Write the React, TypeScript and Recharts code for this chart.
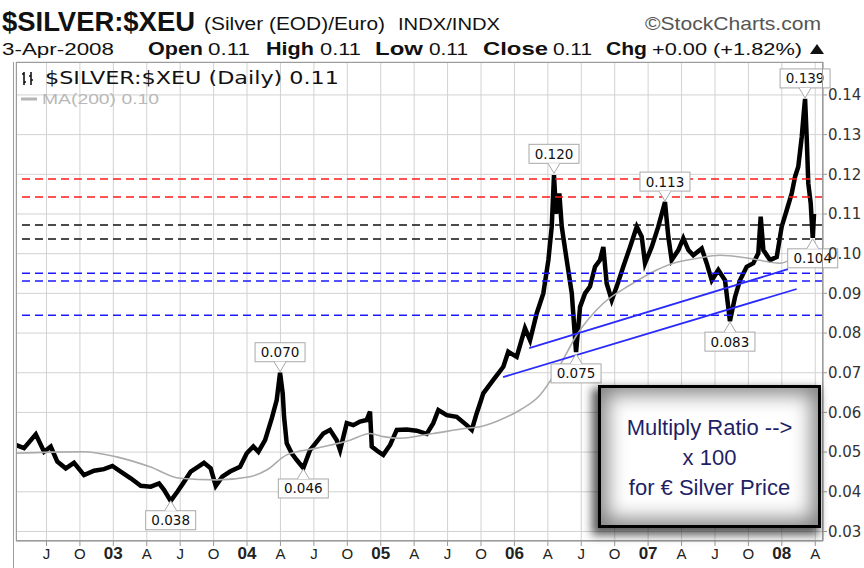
import React from 'react';
import { LineChart, Line, XAxis, YAxis, CartesianGrid, ReferenceLine, ReferenceDot } from 'recharts';

// decimal years
const priceDates = [
  2002.270, 2002.332, 2002.420, 2002.482, 2002.532, 2002.581, 2002.644, 2002.706, 2002.781, 2002.856,
  2002.930, 2002.993, 2003.055, 2003.130, 2003.205, 2003.280, 2003.342, 2003.379, 2003.429, 2003.479,
  2003.529, 2003.579, 2003.616, 2003.678, 2003.728, 2003.766, 2003.815, 2003.873, 2003.948, 2003.998,
  2004.047, 2004.085, 2004.135, 2004.185, 2004.222, 2004.247, 2004.267, 2004.277, 2004.297, 2004.334,
  2004.372, 2004.421, 2004.471, 2004.521, 2004.571, 2004.621, 2004.671, 2004.696, 2004.746, 2004.795,
  2004.845, 2004.895, 2004.920, 2004.933, 2004.982, 2005.019, 2005.070, 2005.120, 2005.194, 2005.269,
  2005.344, 2005.393, 2005.431, 2005.494, 2005.568, 2005.643, 2005.681, 2005.718, 2005.743, 2005.767,
  2005.842, 2005.917, 2005.954, 2006.017, 2006.079, 2006.117, 2006.167, 2006.216, 2006.254, 2006.279,
  2006.296, 2006.311, 2006.336, 2006.354, 2006.391, 2006.429, 2006.461, 2006.491, 2006.528, 2006.565,
  2006.603, 2006.640, 2006.665, 2006.690, 2006.728, 2006.765, 2006.814, 2006.865, 2006.915, 2006.952,
  2006.977, 2007.027, 2007.076, 2007.126, 2007.151, 2007.176, 2007.226, 2007.263, 2007.301, 2007.338,
  2007.401, 2007.438, 2007.476, 2007.525, 2007.575, 2007.612, 2007.650, 2007.687, 2007.737, 2007.787,
  2007.824, 2007.842, 2007.862, 2007.912, 2007.962, 2007.999, 2008.037, 2008.074, 2008.099, 2008.123,
  2008.149, 2008.166, 2008.174, 2008.186, 2008.198, 2008.216, 2008.231, 2008.241,
];
const priceValues = [
  0.0518, 0.0510, 0.0545, 0.0501, 0.0514, 0.0476, 0.0459, 0.0473, 0.0442, 0.0453,
  0.0457, 0.0465, 0.0451, 0.0434, 0.0415, 0.0413, 0.0421, 0.0405, 0.0377, 0.0400,
  0.0425, 0.0451, 0.0459, 0.0473, 0.0459, 0.0415, 0.0438, 0.0451, 0.0463, 0.0497,
  0.0514, 0.0501, 0.0530, 0.0585, 0.0631, 0.0700, 0.0648, 0.0589, 0.0522, 0.0497,
  0.0480, 0.0460, 0.0505, 0.0526, 0.0547, 0.0556, 0.0530, 0.0505, 0.0573, 0.0568,
  0.0577, 0.0581, 0.0602, 0.0514, 0.0501, 0.0493, 0.0518, 0.0556, 0.0557, 0.0554,
  0.0546, 0.0573, 0.0606, 0.0593, 0.0589, 0.0568, 0.0556, 0.0598, 0.0623, 0.0648,
  0.0682, 0.0715, 0.0753, 0.0740, 0.0812, 0.0782, 0.0850, 0.0900, 0.0984, 0.1068,
  0.1198, 0.1101, 0.1152, 0.1068, 0.0984, 0.0900, 0.0752, 0.0866, 0.0900, 0.0917,
  0.0967, 0.0984, 0.1017, 0.0925, 0.0883, 0.0917, 0.0967, 0.1017, 0.1068, 0.1043,
  0.0976, 0.1017, 0.1068, 0.1130, 0.1043, 0.0984, 0.1009, 0.1039, 0.1009, 0.0996,
  0.1013, 0.0976, 0.0933, 0.0959, 0.0933, 0.0830, 0.0891, 0.0933, 0.0967, 0.0976,
  0.1001, 0.1093, 0.1009, 0.0984, 0.0992, 0.1068, 0.1110, 0.1152, 0.1194, 0.1219,
  0.1294, 0.1362, 0.1390, 0.1294, 0.1177, 0.1127, 0.1040, 0.1100,
];

const maDates = [
  2002.270, 2002.527, 2002.776, 2003.025, 2003.274, 2003.499, 2003.773, 2004.022, 2004.147, 2004.297,
  2004.521, 2004.770, 2004.920, 2005.019, 2005.144, 2005.393, 2005.643, 2005.743, 2005.892, 2006.042,
  2006.192, 2006.341, 2006.466, 2006.665, 2006.865, 2007.064, 2007.188, 2007.363, 2007.538, 2007.762,
  2007.986, 2008.111, 2008.236,
];
const maValues = [
  0.0497, 0.0500, 0.0501, 0.0488, 0.0463, 0.0434, 0.0430, 0.0438, 0.0455, 0.0493,
  0.0510, 0.0530, 0.0547, 0.0539, 0.0535, 0.0547, 0.0560, 0.0564, 0.0581, 0.0606,
  0.0644, 0.0719, 0.0795, 0.0875, 0.0921, 0.0959, 0.0976, 0.0988, 0.0996, 0.0988,
  0.0976, 0.0992, 0.1005,
];

const xTicks = [
  2002.5, 2002.75, 2003, 2003.25, 2003.5, 2003.75, 2004, 2004.25, 2004.5, 2004.75, 2005, 2005.25,
  2005.5, 2005.75, 2006, 2006.25, 2006.5, 2006.75, 2007, 2007.25, 2007.5, 2007.75, 2008, 2008.25,
];
const xTickLabels = ['J', 'O', '03', 'A', 'J', 'O', '04', 'A', 'J', 'O', '05', 'A', 'J', 'O', '06', 'A', 'J', 'O', '07', 'A', 'J', 'O', '08', 'A'];
const yTicks = [0.03, 0.04, 0.05, 0.06, 0.07, 0.08, 0.09, 0.1, 0.11, 0.12, 0.13, 0.14];

const redLevels = [0.1188, 0.1143];
const blackLevels = [0.1072, 0.1037];
const blueLevels = [0.0951, 0.0931, 0.0845];

const trendStartDates = [2006.111, 2005.915];
const trendStartValues = [0.0762, 0.0689];
const trendEndDates = [2008.046, 2008.111];
const trendEndValues = [0.0961, 0.0911];

const calloutDates = [2003.429, 2004.247, 2004.421, 2006.296, 2006.461, 2007.126, 2007.612, 2008.174, 2008.231];
const calloutValues = [0.038, 0.070, 0.046, 0.120, 0.075, 0.113, 0.083, 0.139, 0.104];
const calloutBelow = [true, false, true, false, true, false, true, false, true];

const priceData = priceDates.map((t, i) => ({ t, v: priceValues[i] }));
const maData = maDates.map((t, i) => ({ t, v: maValues[i] }));

const MONO = "'DejaVu Sans', Verdana, sans-serif";
const NARROW = "'Liberation Sans Narrow', 'Arial Narrow', 'Liberation Sans', Arial, sans-serif";

function Callout({ cx, cy, text, below }: any) {
  const w = 50;
  const h = 19;
  const gap = 11;
  const top = below ? cy + gap : cy - gap - h;
  const edge = below ? top : top + h;
  const tip = below ? cy + 1 : cy - 1;
  return (
    <g>
      <rect x={cx - w / 2} y={top} width={w} height={h} fill="#fff" stroke="#a8a8a8" />
      <polygon points={`${cx - 6},${edge} ${cx},${tip} ${cx + 6},${edge}`} fill="#fff" stroke="none" />
      <polyline points={`${cx - 6},${edge} ${cx},${tip} ${cx + 6},${edge}`} fill="none" stroke="#a8a8a8" />
      <text x={cx} y={top + 14.5} textAnchor="middle" fontSize={13.5} fontFamily={MONO} fill="#111">
        {text}
      </text>
    </g>
  );
}

function XTick({ x, y, payload }: any) {
  const i = xTicks.findIndex((v) => Math.abs(v - payload.value) < 1e-6);
  const label = xTickLabels[i] ?? '';
  const isYear = /\d/.test(label);
  return (
    <text
      x={x}
      y={y + 11}
      textAnchor="middle"
      fontSize={isYear ? 17 : 15}
      fontWeight={isYear ? 'bold' : 'normal'}
      fontFamily={NARROW}
      fill="#222"
    >
      {label}
    </text>
  );
}

const line2 = [
  { s: '3-Apr-2008', x: 2, w: 112, b: false },
  { s: 'Open', x: 148, w: 55, b: true },
  { s: '0.11', x: 208, w: 42, b: false },
  { s: 'High', x: 266, w: 48, b: true },
  { s: '0.11', x: 320, w: 41, b: false },
  { s: 'Low', x: 375, w: 48, b: true },
  { s: '0.11', x: 429, w: 39, b: false },
  { s: 'Close', x: 483, w: 65, b: true },
  { s: '0.11', x: 553, w: 39, b: false },
  { s: 'Chg', x: 606, w: 41, b: true },
  { s: '+0.00 (+1.82%)', x: 652, w: 150, b: false },
];

export default function App() {
  return (
    <div style={{ position: 'absolute', left: 0, top: 0, width: 864, height: 568, background: '#fff', overflow: 'hidden' }}>
      <LineChart width={864} height={568} margin={{ top: 62, right: 3, bottom: 0, left: 16 }}>
        <CartesianGrid stroke="#d2d2d2" strokeWidth={1} />
        <XAxis
          dataKey="t"
          type="number"
          domain={[2002.272, 2008.308]}
          allowDataOverflow
          ticks={xTicks}
          tick={<XTick />}
          tickSize={5}
          height={27}
          tickLine={{ stroke: '#999' }}
          axisLine={{ stroke: '#999' }}
          interval={0}
        />
        <YAxis
          orientation="right"
          type="number"
          domain={[0.0276, 0.1483]}
          allowDataOverflow
          ticks={yTicks}
          width={38}
          tickSize={4}
          tickMargin={1}
          tickFormatter={(v: number) => v.toFixed(2)}
          tick={{ fontSize: 15, fontFamily: MONO, fill: '#333' }}
          tickLine={{ stroke: '#999' }}
          axisLine={{ stroke: '#999' }}
          interval={0}
        />
        <Line data={priceData} dataKey="v" type="linear" dot={false} stroke="#000" strokeWidth={4.5} strokeLinejoin="miter" isAnimationActive={false} />
        <Line data={maData} dataKey="v" type="monotone" dot={false} stroke="#ababab" strokeWidth={1.6} isAnimationActive={false} />
        {redLevels.map((v) => (
          <ReferenceLine key={'r' + v} y={v} stroke="#ff1a1a" strokeWidth={1.5} strokeDasharray="8 5" />
        ))}
        {blackLevels.map((v) => (
          <ReferenceLine key={'k' + v} y={v} stroke="#111" strokeWidth={1.5} strokeDasharray="8 5" />
        ))}
        {blueLevels.map((v) => (
          <ReferenceLine key={'b' + v} y={v} stroke="#1a1aff" strokeWidth={1.5} strokeDasharray="8 5" />
        ))}
        {trendStartDates.map((t, i) => (
          <ReferenceLine
            key={'t' + i}
            segment={[
              { x: t, y: trendStartValues[i] },
              { x: trendEndDates[i], y: trendEndValues[i] },
            ]}
            stroke="#2a2aff"
            strokeWidth={1.8}
          />
        ))}
        {calloutDates.map((t, i) => (
          <ReferenceDot
            key={'c' + i}
            x={t}
            y={calloutValues[i]}
            r={0}
            ifOverflow="visible"
            shape={(p: any) => <Callout cx={p.cx} cy={p.cy} text={calloutValues[i].toFixed(3)} below={calloutBelow[i]} />}
          />
        ))}
      </LineChart>

      {/* frame */}
      <div style={{ position: 'absolute', left: 16, top: 62, width: 807, height: 479, border: '1px solid #9c9c9c', boxSizing: 'border-box', pointerEvents: 'none' }} />
      <div style={{ position: 'absolute', left: 13, top: 62, width: 1, height: 506, background: '#9c9c9c' }} />

      <svg width={864} height={568} style={{ position: 'absolute', left: 0, top: 0, pointerEvents: 'none' }}>
        <text x={2} y={31} fontSize={28} fontWeight="bold" fontFamily={NARROW} textLength={193} lengthAdjust="spacingAndGlyphs" fill="#111">
          $SILVER:$XEU
        </text>
        <text x={204} y={30} fontSize={18} fontFamily={NARROW} textLength={181} lengthAdjust="spacingAndGlyphs" fill="#111">
          (Silver (EOD)/Euro)
        </text>
        <text x={398} y={30} fontSize={16} fontFamily={NARROW} textLength={102} lengthAdjust="spacingAndGlyphs" fill="#111">
          INDX/INDX
        </text>
        <text x={645} y={30} fontSize={19} fontFamily={NARROW} textLength={176} lengthAdjust="spacingAndGlyphs" fill="#555">
          ©StockCharts.com
        </text>
        {line2.map((d) => (
          <text key={d.x} x={d.x} y={55} fontSize={d.b ? 19 : 17} fontWeight={d.b ? 'bold' : 'normal'} fontFamily={NARROW} textLength={d.w} lengthAdjust="spacingAndGlyphs" fill="#111">
            {d.s}
          </text>
        ))}
        <polygon points="810,54 824,54 817,44" fill="#111" />

        {/* legend */}
        <path d="M24,72 L24,85 M22,74 L24,74 M24,82 L26,82 M31,72 L31,85 M29,76 L31,76 M31,80 L33,80" stroke="#111" strokeWidth={1.6} fill="none" />
        <text x={45} y={84} fontSize={17} fontFamily={MONO} textLength={294} lengthAdjust="spacingAndGlyphs" fill="#111">
          $SILVER:$XEU (Daily) 0.11
        </text>
        <line x1={21} y1={99} x2={37} y2={99} stroke="#b5b5b5" strokeWidth={3} />
        <text x={42} y={104} fontSize={15} fontFamily="'Liberation Sans', Arial, sans-serif" textLength={117} lengthAdjust="spacingAndGlyphs" fill="#b8b8b8">
          MA(200) 0.10
        </text>
      </svg>

      {/* annotation box */}
      <div
        style={{
          position: 'absolute',
          left: 598,
          top: 385,
          width: 223,
          height: 143,
          boxSizing: 'border-box',
          border: '3px solid #000',
          background: '#fff',
          boxShadow: 'inset 0 0 20px 6px rgba(0,0,0,0.5), -4px 5px 9px 2px rgba(0,0,0,0.65)',
          color: '#1f1f66',
          fontFamily: "'Liberation Sans', Arial, sans-serif",
          fontSize: 22,
          lineHeight: '30px',
          textAlign: 'center',
          paddingTop: 25,
          whiteSpace: 'nowrap',
        }}
      >
        <div>Multiply Ratio --&gt;</div>
        <div>x 100</div>
        <div>for € Silver Price</div>
      </div>
    </div>
  );
}
